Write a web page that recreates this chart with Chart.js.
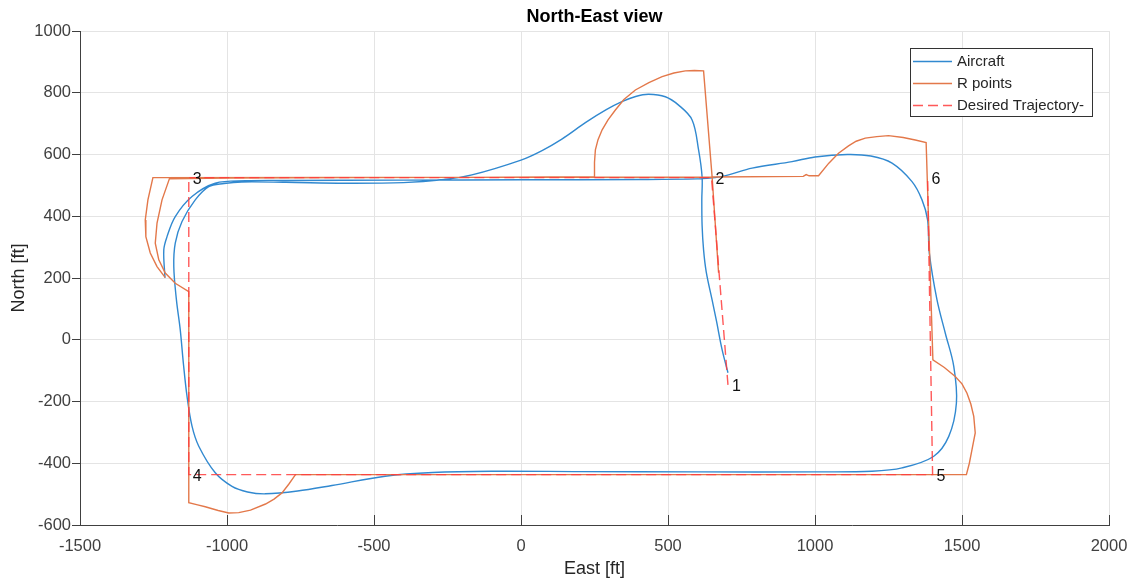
<!DOCTYPE html>
<html>
<head>
<meta charset="utf-8">
<title>North-East view</title>
<script src="https://cdn.jsdelivr.net/npm/chart.js@4"></script>
<style>
  body { margin: 0; background: #fff; }
  canvas { display: block; }
</style>
</head>
<body>
<canvas id="chart" width="1130" height="582"></canvas>
<script>
// Flight track data (east / north in ft)

// Aircraft track
const aircraftEast = [704, 684, 665, 650, 630, 621, 616, 615, 616, 604, 582, 536, 491, 434, 390, 343, 290, 219, 139, 70, 0,
    -167, -269, -400, -600, -800, -950, -1010, -1062, -1108, -1153, -1176, -1181, -1172, -1159, -1148, -1136, -1119,
    -1096, -1040, -983, -930, -869, -760, -643, -462, -300, -100, 200, 600, 1000, 1194, 1296, 1403, 1455,
    1481, 1472, 1443, 1415, 1389, 1383, 1364, 1330, 1262, 1190, 1110, 1000, 922, 786, 706, 661, 600, 400, 0, -400,
    -800, -937, -1040, -1119, -1176, -1204, -1215, -1211];
const aircraftNorth = [-107, -32, 60, 129, 220, 291, 370, 453, 527, 615, 712, 760, 787, 795, 788, 771, 745, 703, 650, 612, 582,
    534, 518, 509, 507, 510, 511, 506, 496, 453, 383, 313, 237, 129, 32, -80, -183, -280,
    -345, -431, -475, -493, -499, -490, -472, -442, -430, -426, -427, -428, -428, -426, -415, -378, -313,
    -205, -86, 22, 129, 280, 388, 453, 512, 572, 595, 600, 592, 577, 556, 534, 525, 521, 519, 518, 517,
    516, 515, 507, 464, 399, 334, 291, 201];

// R points (carrot) track
const rEast = [672, 650, 621, 590, 559, 520, 480, 435, 389, 350, 321, 296, 276, 262, 253, 250, 250,
    100, -200, -600, -1000, -1196, -1221, -1238, -1244, -1232, -1210, -1176, -1130,
    -1130, -1100, -1074, -1030, -994, -960, -920, -869, -840, -813, -790, -767,
    1515, 1525, 1534, 1545, 1540, 1530, 1517, 1500, 1477, 1440, 1401,
    1378, 1341, 1300, 1250, 1210, 1171, 1140, 1114, 1080, 1047, 1012, 980, 970, 960, 650,
    -1252, -1269, -1278, -1276, -1261, -1238, -1210];
const rNorth = [217, 528, 871, 872, 871, 864, 852, 833, 809, 778, 744, 712, 680, 648, 615, 575, 528,
    527, 526, 525, 524, 521, 453, 378, 313, 259, 216, 183, 156,
    -528, -535, -541, -553, -561, -560, -552, -532, -516, -496, -468, -437,
    -437, -400, -356, -302, -248, -208, -173, -143, -119, -90, -65,
    639, 647, 655, 661, 658, 653, 643, 628, 604, 572, 531, 531, 535, 529, 527,
    525, 453, 388, 334, 281, 237, 201];

// Desired trajectory waypoints 1..6
const wpEast = [704, 648, -1130, -1130, 1400, 1383];
const wpNorth = [-146, 525, 525, -437, -437, 525];
const wpNames = ['1', '2', '3', '4', '5', '6'];

// Axis ticks
const eastTicks = [-1500, -1000, -500, 0, 500, 1000, 1500, 2000];
const northTicks = [-600, -400, -200, 0, 200, 400, 600, 800, 1000];

const FONT = '"Liberation Sans", Arial, Helvetica, sans-serif';
const AXIS_COLOR = '#404040';
const GRID_COLOR = '#e4e4e4';

function toPoints(xs, ys) {
    return xs.map((x, i) => ({x: x, y: ys[i]}));
}

const series = [
    {label: 'Aircraft', east: aircraftEast, north: aircraftNorth, color: '#3189d0', dash: [], tension: 0.35, order: 2},
    {label: 'R points', east: rEast, north: rNorth, color: '#e3784a', dash: [], tension: 0, order: 1},
    {label: 'Desired Trajectory-', east: wpEast, north: wpNorth, color: 'rgba(255,60,60,0.85)', dash: [10, 5], tension: 0, order: 0},
];

// titles, waypoint numbers, legend and inward x ticks
const decorPlugin = {
    id: 'decor',
    afterDraw(chart) {
        const c = chart.ctx;
        const area = chart.chartArea;
        const xs = chart.scales.x;
        const ys = chart.scales.y;

        c.save();

        // inward ticks on the east axis
        c.strokeStyle = AXIS_COLOR;
        c.lineWidth = 1;
        eastTicks.forEach(v => {
            const px = Math.round(xs.getPixelForValue(v)) + 0.5;
            c.beginPath();
            c.moveTo(px, area.bottom);
            c.lineTo(px, area.bottom - 10);
            c.stroke();
        });

        // waypoint numbers
        c.fillStyle = '#111';
        c.font = '16px ' + FONT;
        c.textAlign = 'left';
        c.textBaseline = 'middle';
        wpNames.forEach((name, i) => {
            c.fillText(name, xs.getPixelForValue(wpEast[i]) + 4, ys.getPixelForValue(wpNorth[i]) + 2);
        });

        // title
        const midX = (area.left + area.right) / 2;
        c.fillStyle = '#000';
        c.font = 'bold 18px ' + FONT;
        c.textAlign = 'center';
        c.fillText('North-East view', midX, 17);

        // axis titles
        c.fillStyle = '#262626';
        c.font = '18px ' + FONT;
        c.fillText('East [ft]', midX, 569);
        c.save();
        c.translate(19, (area.top + area.bottom) / 2);
        c.rotate(-Math.PI / 2);
        c.fillText('North [ft]', 0, 0);
        c.restore();

        // legend
        const lw = 182, lh = 68;
        const lx = area.right - 17 - lw;
        const ly = area.top + 17;
        c.fillStyle = '#fff';
        c.fillRect(lx, ly, lw, lh);
        c.strokeStyle = '#333';
        c.lineWidth = 1;
        c.strokeRect(lx + 0.5, ly + 0.5, lw, lh);
        c.font = '15px ' + FONT;
        c.textAlign = 'left';
        series.forEach((s, i) => {
            const y = ly + 13 + i * 22;
            c.strokeStyle = s.color;
            c.lineWidth = 1.4;
            c.setLineDash(s.dash);
            c.beginPath();
            c.moveTo(lx + 3, y + 0.5);
            c.lineTo(lx + 42, y + 0.5);
            c.stroke();
            c.setLineDash([]);
            c.fillStyle = '#262626';
            c.fillText(s.label, lx + 47, y + 1);
        });

        c.restore();
    }
};

const chart = new Chart(document.getElementById('chart').getContext('2d'), {
    type: 'scatter',
    data: {
        datasets: series.map(s => ({
            label: s.label,
            data: toPoints(s.east, s.north),
            showLine: true,
            borderColor: s.color,
            borderWidth: 1.4,
            borderDash: s.dash,
            tension: s.tension,
            pointRadius: 0,
            fill: false,
            order: s.order,
        })),
    },
    options: {
        responsive: false,
        animation: false,
        layout: {padding: {left: 0, right: 21, top: 31, bottom: 0}},
        plugins: {
            legend: {display: false},
            tooltip: {enabled: false},
            title: {display: false},
        },
        scales: {
            x: {
                type: 'linear',
                min: eastTicks[0],
                max: eastTicks[eastTicks.length - 1],
                afterBuildTicks: scale => { scale.ticks = eastTicks.map(v => ({value: v})); },
                afterFit: scale => {
                    scale.height = 57;
                    scale.paddingLeft = 0;
                    scale.paddingRight = 0;
                },
                ticks: {
                    callback: v => String(v),
                    color: AXIS_COLOR,
                    font: {family: FONT, size: 16.5},
                    padding: 12,
                    maxRotation: 0,
                    autoSkip: false,
                },
                grid: {color: GRID_COLOR, drawTicks: false},
                border: {color: AXIS_COLOR, width: 1},
            },
            y: {
                type: 'linear',
                min: northTicks[0],
                max: northTicks[northTicks.length - 1],
                afterBuildTicks: scale => { scale.ticks = northTicks.map(v => ({value: v})); },
                afterFit: scale => {
                    scale.width = 80;
                    scale.paddingTop = 0;
                    scale.paddingBottom = 0;
                },
                ticks: {
                    callback: v => String(v),
                    color: AXIS_COLOR,
                    font: {family: FONT, size: 16.5},
                    padding: 1,
                    autoSkip: false,
                },
                grid: {color: GRID_COLOR, tickColor: AXIS_COLOR, tickLength: 8},
                border: {color: AXIS_COLOR, width: 1},
            },
        },
    },
    plugins: [decorPlugin],
});
</script>
</body>
</html>
